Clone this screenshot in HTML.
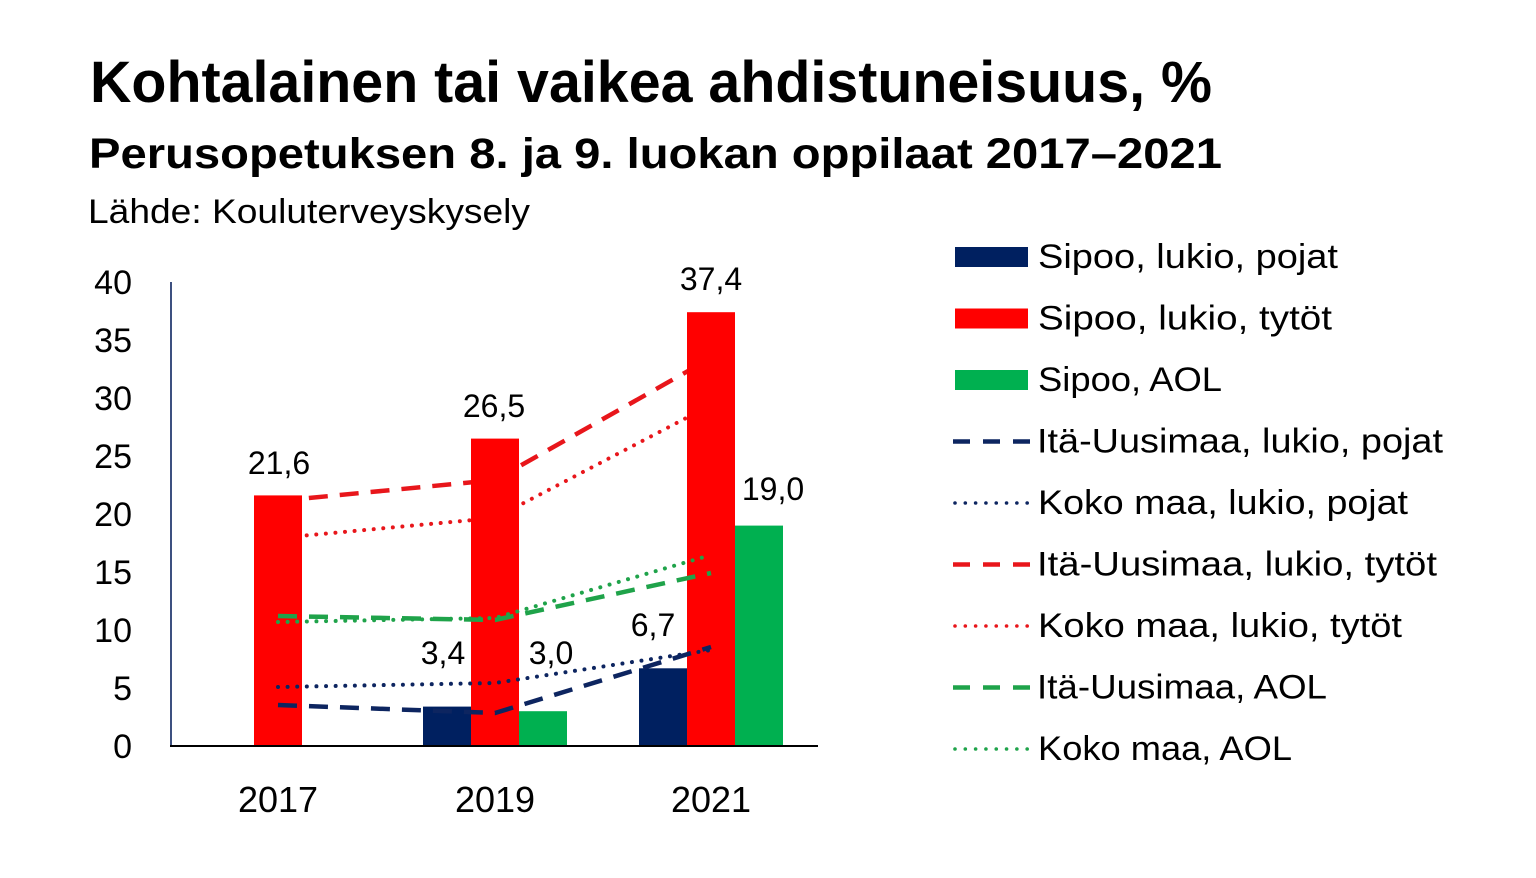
<!DOCTYPE html>
<html>
<head>
<meta charset="utf-8">
<style>
  html, body { margin: 0; padding: 0; background: #ffffff; }
  body { width: 1536px; height: 878px; overflow: hidden; }
  svg { display: block; }
  text { font-family: "Liberation Sans", "DejaVu Sans", sans-serif; fill: #000; }
</style>
</head>
<body>
<svg width="1536" height="878" viewBox="0 0 1536 878" xmlns="http://www.w3.org/2000/svg">
  <rect x="0" y="0" width="1536" height="878" fill="#ffffff"/>

  <!-- Titles -->
  <text x="90" y="102" font-size="58" font-weight="bold" textLength="1122" lengthAdjust="spacingAndGlyphs">Kohtalainen tai vaikea ahdistuneisuus, %</text>
  <text x="89" y="168" font-size="43" font-weight="bold" textLength="1133" lengthAdjust="spacingAndGlyphs">Perusopetuksen 8. ja 9. luokan oppilaat 2017–2021</text>
  <text x="88" y="223" font-size="34" textLength="442" lengthAdjust="spacingAndGlyphs">Lähde: Kouluterveyskysely</text>

  <!-- Y tick labels -->
  <g font-size="34" text-anchor="end">
    <text x="132" y="294">40</text>
    <text x="132" y="352">35</text>
    <text x="132" y="410">30</text>
    <text x="132" y="468">25</text>
    <text x="132" y="526">20</text>
    <text x="132" y="584">15</text>
    <text x="132" y="642">10</text>
    <text x="132" y="700">5</text>
    <text x="132" y="758">0</text>
  </g>

  <!-- Red lines (hidden behind red bars) -->
  <g fill="none" stroke-width="4.5">
    <polyline points="278,501 495,480 711,358" stroke="#E8161B" stroke-dasharray="19 12"/>
    <polyline points="278,538 495,518 711,405" stroke="#E8161B" stroke-width="4" stroke-linecap="round" stroke-dasharray="0.01 9.6"/>
  </g>

  <!-- Bars -->
  <!-- 2017 -->
  <rect x="254" y="495.4" width="48" height="250.6" fill="#FF0000"/>
  <!-- 2019 -->
  <rect x="423" y="706.6" width="48" height="39.4" fill="#002060"/>
  <rect x="471" y="438.6" width="48" height="307.4" fill="#FF0000"/>
  <rect x="519" y="711.2" width="48" height="34.8" fill="#00B050"/>
  <!-- 2021 -->
  <rect x="639" y="668.3" width="48" height="77.7" fill="#002060"/>
  <rect x="687" y="312.2" width="48" height="433.8" fill="#FF0000"/>
  <rect x="735" y="525.6" width="48" height="220.4" fill="#00B050"/>

  <!-- Other lines (on top) -->
  <g fill="none" stroke-width="4.5">
    <polyline points="278,616 495,620 711,573" stroke="#1FA34A" stroke-dasharray="19 12"/>
    <polyline points="278,622 495,618 711,555" stroke="#1FA34A" stroke-width="4" stroke-linecap="round" stroke-dasharray="0.01 9.6"/>
    <polyline points="278,687 495,683 711,650" stroke="#0D2560" stroke-width="4" stroke-linecap="round" stroke-dasharray="0.01 9.6"/>
    <polyline points="278,705 495,713 711,647" stroke="#0D2560" stroke-dasharray="19 12"/>
  </g>

  <!-- Axes -->
  <line x1="171" y1="282" x2="171" y2="746" stroke="#0D2560" stroke-width="1.6"/>
  <line x1="170" y1="746" x2="818" y2="746" stroke="#000" stroke-width="2"/>

  <!-- Data labels -->
  <g font-size="32" text-anchor="middle">
    <text x="279" y="474">21,6</text>
    <text x="494" y="417">26,5</text>
    <text x="711" y="290">37,4</text>
    <text x="773" y="500">19,0</text>
    <text x="653" y="636">6,7</text>
    <text x="443" y="664">3,4</text>
    <text x="551" y="664">3,0</text>
  </g>

  <!-- X labels -->
  <g font-size="36" text-anchor="middle">
    <text x="278" y="812">2017</text>
    <text x="495" y="812">2019</text>
    <text x="711" y="812">2021</text>
  </g>

  <!-- Legend -->
  <rect x="955" y="247" width="73" height="20" fill="#002060"/>
  <rect x="955" y="308.5" width="73" height="20" fill="#FF0000"/>
  <rect x="955" y="370" width="73" height="20" fill="#00B050"/>
  <g fill="none" stroke-width="4.5">
    <line x1="953" y1="441.5" x2="1030" y2="441.5" stroke="#0D2560" stroke-dasharray="17 13"/>
    <line x1="955" y1="503" x2="1030" y2="503" stroke="#0D2560" stroke-width="3.6" stroke-linecap="round" stroke-dasharray="0.01 10.3"/>
    <line x1="953" y1="564.5" x2="1030" y2="564.5" stroke="#E8161B" stroke-dasharray="17 13"/>
    <line x1="955" y1="626" x2="1030" y2="626" stroke="#E8161B" stroke-width="3.6" stroke-linecap="round" stroke-dasharray="0.01 10.3"/>
    <line x1="953" y1="687.5" x2="1030" y2="687.5" stroke="#1FA34A" stroke-dasharray="17 13"/>
    <line x1="955" y1="749" x2="1030" y2="749" stroke="#1FA34A" stroke-width="3.6" stroke-linecap="round" stroke-dasharray="0.01 10.3"/>
  </g>
  <g font-size="34">
    <text x="1038" y="268" textLength="300" lengthAdjust="spacingAndGlyphs">Sipoo, lukio, pojat</text>
    <text x="1038" y="329.5" textLength="294" lengthAdjust="spacingAndGlyphs">Sipoo, lukio, tytöt</text>
    <text x="1038" y="391" textLength="184" lengthAdjust="spacingAndGlyphs">Sipoo, AOL</text>
    <text x="1037" y="452.5" textLength="406" lengthAdjust="spacingAndGlyphs">Itä-Uusimaa, lukio, pojat</text>
    <text x="1038" y="514" textLength="370" lengthAdjust="spacingAndGlyphs">Koko maa, lukio, pojat</text>
    <text x="1037" y="575.5" textLength="400" lengthAdjust="spacingAndGlyphs">Itä-Uusimaa, lukio, tytöt</text>
    <text x="1038" y="637" textLength="364" lengthAdjust="spacingAndGlyphs">Koko maa, lukio, tytöt</text>
    <text x="1037" y="698.5" textLength="290" lengthAdjust="spacingAndGlyphs">Itä-Uusimaa, AOL</text>
    <text x="1038" y="760" textLength="254" lengthAdjust="spacingAndGlyphs">Koko maa, AOL</text>
  </g>
</svg>
</body>
</html>
